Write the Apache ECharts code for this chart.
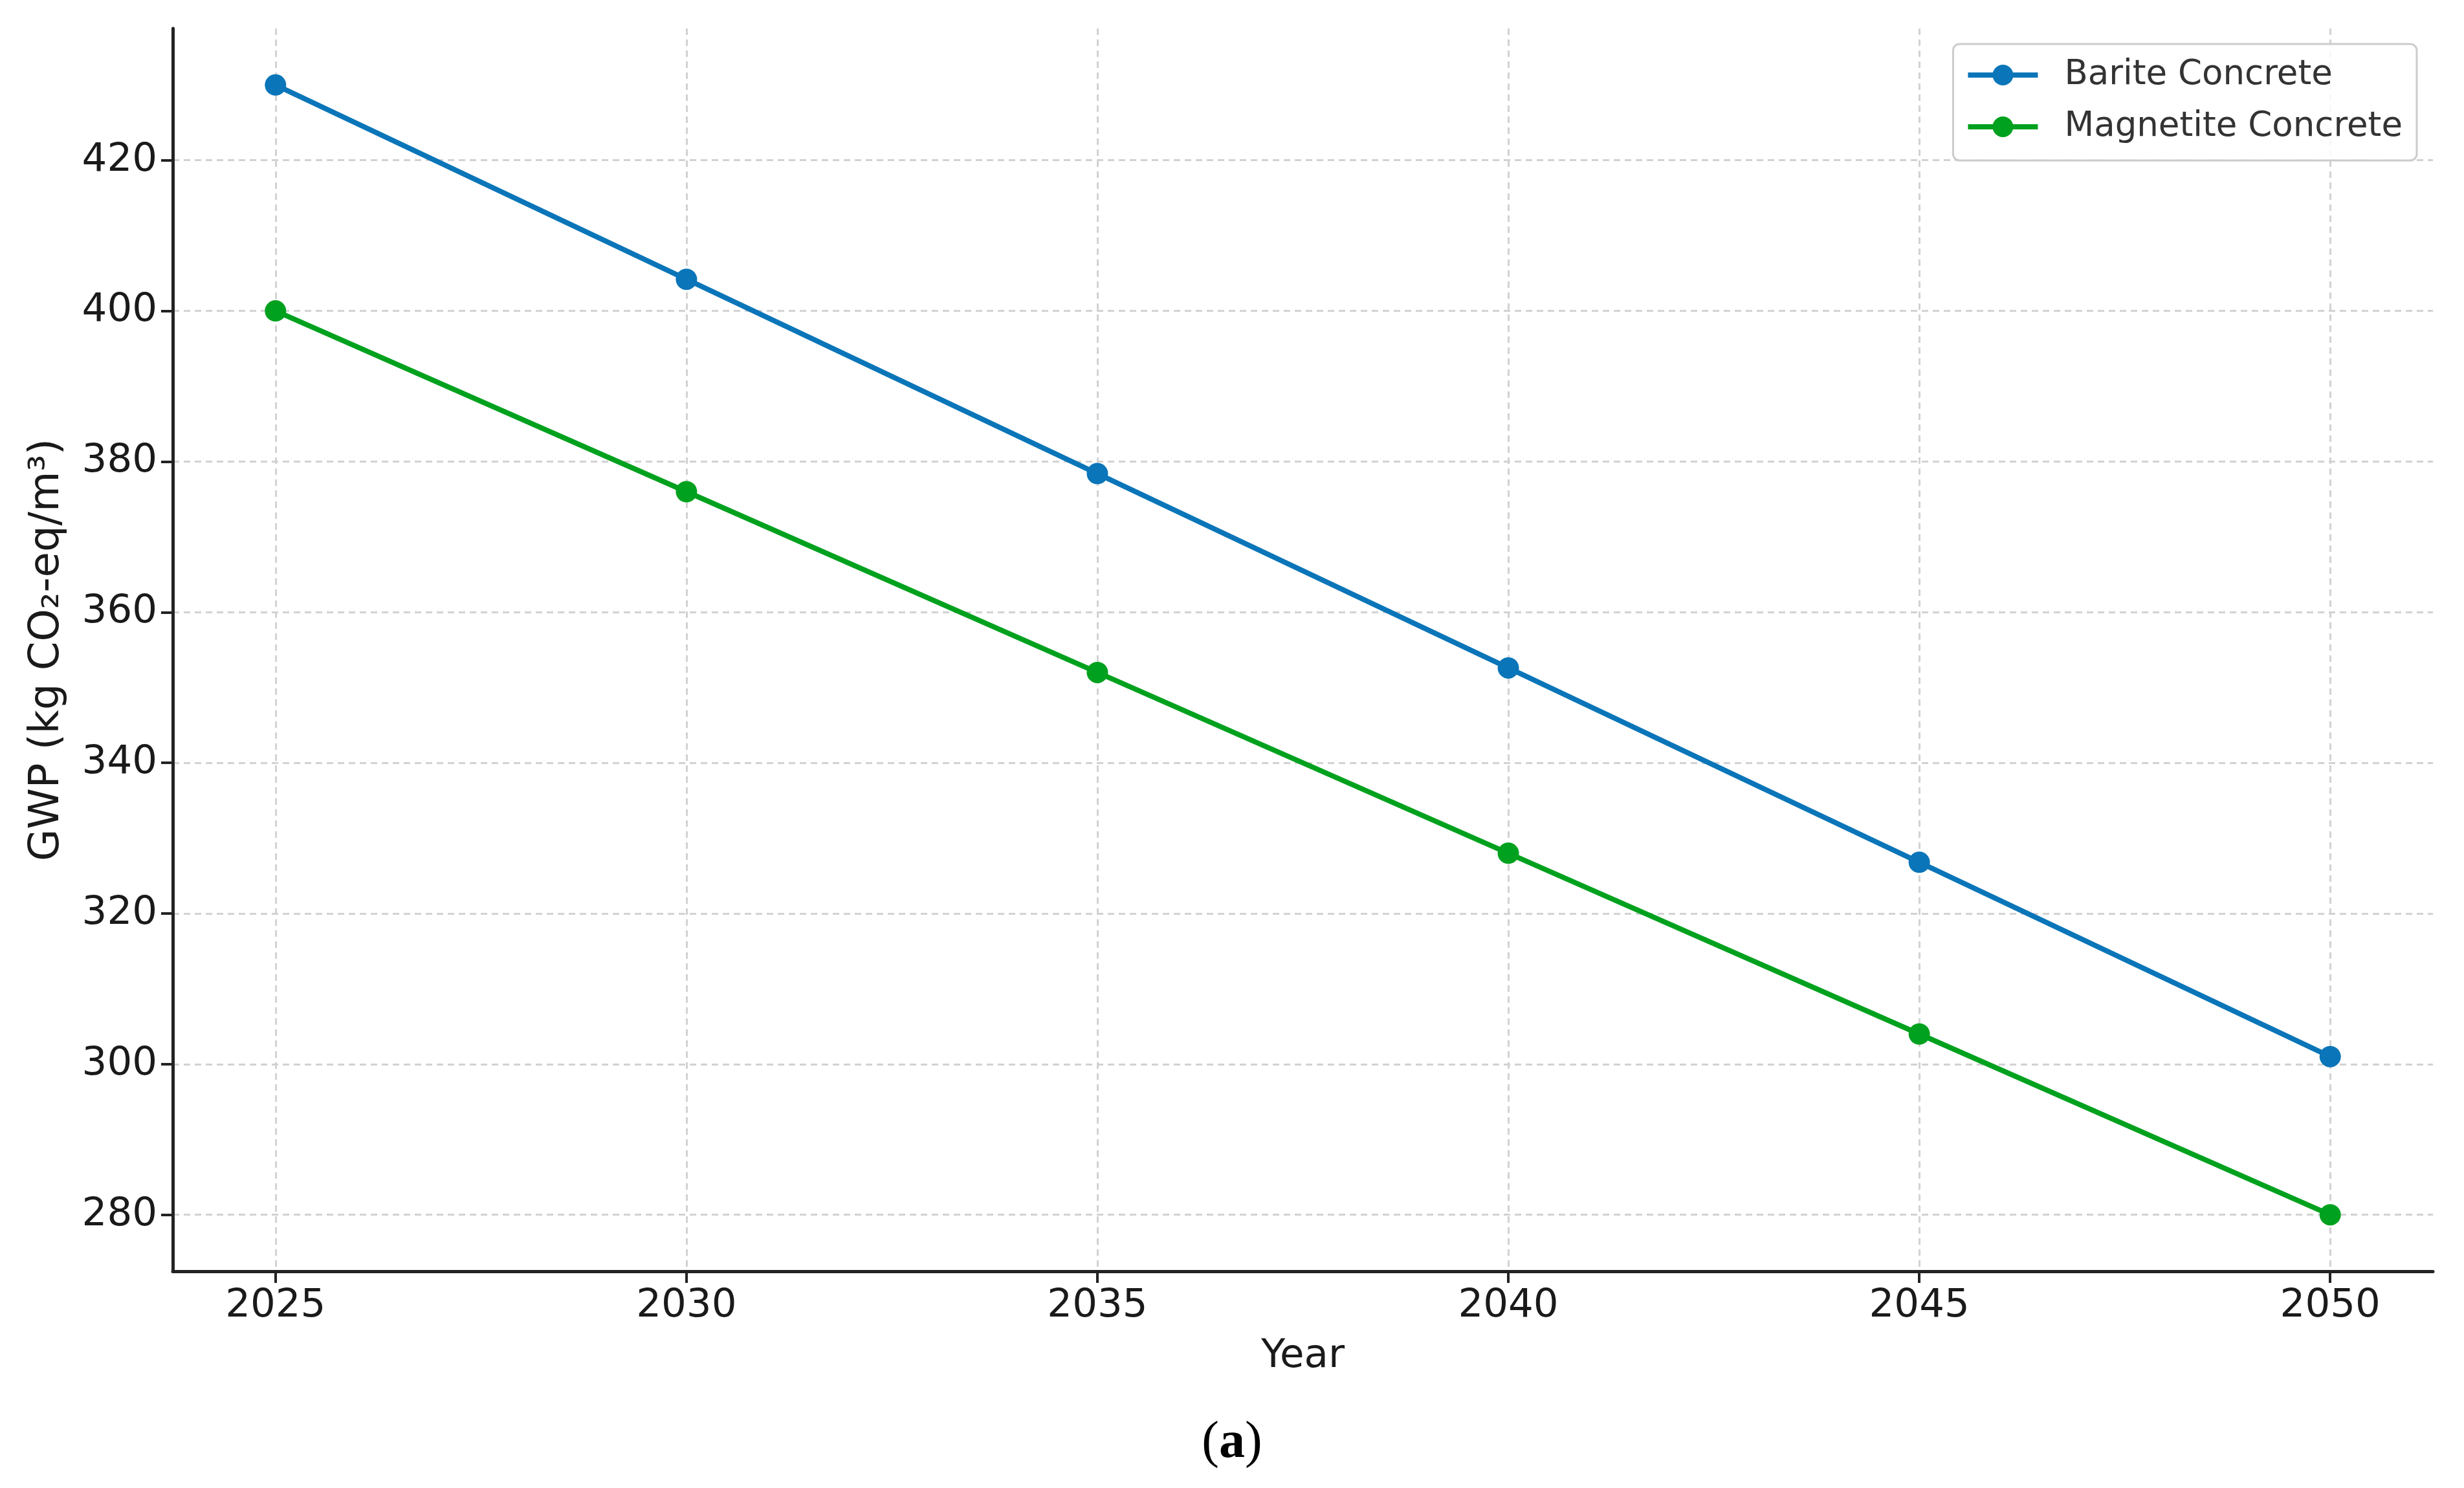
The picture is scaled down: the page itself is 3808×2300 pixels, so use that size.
<!DOCTYPE html>
<html>
<head>
<meta charset="utf-8">
<script src="https://cdn.jsdelivr.net/npm/echarts@6.0.0/dist/echarts.min.js"></script>
<style>
  html, body { margin: 0; padding: 0; background: #ffffff; }
  #chart { width: 3808px; height: 2300px; }
</style>
</head>
<body>
<div id="chart"></div>
<script>
// ---- data ----
const years = [2025, 2030, 2035, 2040, 2045, 2050];
const bariteValues = [430, 404.2, 378.4, 352.6, 326.8, 301];
const magnetiteValues = [400, 376, 352, 328, 304, 280];
const seriesNames = ['Barite Concrete', 'Magnetite Concrete'];
const xTicks = [2025, 2030, 2035, 2040, 2045, 2050];
const yTicks = [280, 300, 320, 340, 360, 380, 400, 420];
const xAxisTitle = 'Year';
const yAxisTitle = 'GWP (kg CO\u2082-eq/m\u00B3)';
const captionLabel = 'a';

const FONT = 'DejaVu Sans';
const AXIS_COLOR = '#222222';
const TEXT_COLOR = '#1a1a1a';
const GRID_COLOR = '#d2d2d2';

function pairs(xs, ys) { return xs.map((x, i) => [x, ys[i]]); }

const chart = echarts.init(document.getElementById('chart'), null, { renderer: 'canvas' });

const option = {
  backgroundColor: '#ffffff',
  animation: false,
  grid: { left: 267, right: 48, top: 44, bottom: 335, containLabel: false },
  title: {
    text: '{p|(}{b|' + captionLabel + '}{p|)}',
    left: 'center',
    top: 2186,
    textStyle: {
      fontWeight: 'normal',
      rich: {
        p: { fontFamily: 'Liberation Serif', fontSize: 80, fontWeight: 'normal', color: '#000' },
        b: { fontFamily: 'Liberation Serif', fontSize: 80, fontWeight: 'bold', color: '#000' }
      }
    }
  },
  legend: {
    data: seriesNames,
    orient: 'vertical',
    right: 73,
    top: 68,
    padding: [16, 22, 20, 19],
    itemWidth: 108,
    itemHeight: 40,
    itemGap: 16,
    backgroundColor: 'rgba(255,255,255,0.85)',
    borderColor: '#cccccc',
    borderWidth: 3,
    borderRadius: 10,
    lineStyle: { width: 8 },
    textStyle: {
      fontFamily: FONT,
      fontSize: 53,
      color: '#333333',
      lineHeight: 64,
      padding: [0, 0, 0, 36]
    }
  },
  xAxis: {
    type: 'value',
    min: 2023.75,
    max: 2051.25,
    name: xAxisTitle,
    nameLocation: 'middle',
    nameGap: 102,
    nameTextStyle: { fontFamily: FONT, fontSize: 61, color: TEXT_COLOR },
    axisLine: { show: true, onZero: false, lineStyle: { color: AXIS_COLOR, width: 5 } },
    axisTick: { show: true, length: 18, customValues: xTicks, lineStyle: { color: AXIS_COLOR, width: 4 } },
    axisLabel: {
      customValues: xTicks,
      margin: 24,
      fontFamily: FONT,
      fontSize: 61,
      color: TEXT_COLOR,
      formatter: v => String(v)
    },
    splitLine: { show: true, lineStyle: { color: GRID_COLOR, width: 3, type: [10, 7] } }
  },
  yAxis: {
    type: 'value',
    min: 272.5,
    max: 437.5,
    name: yAxisTitle,
    nameLocation: 'middle',
    nameGap: 162,
    nameRotate: 90,
    nameTextStyle: { fontFamily: FONT, fontSize: 64, color: TEXT_COLOR },
    axisLine: { show: true, onZero: false, lineStyle: { color: AXIS_COLOR, width: 5 } },
    axisTick: { show: true, length: 18, customValues: yTicks, lineStyle: { color: AXIS_COLOR, width: 4 } },
    axisLabel: {
      customValues: yTicks,
      margin: 24,
      fontFamily: FONT,
      fontSize: 61,
      color: TEXT_COLOR,
      formatter: v => String(v)
    },
    splitLine: { show: true, lineStyle: { color: GRID_COLOR, width: 3, type: [10, 7] } }
  },
  series: [
    {
      name: seriesNames[0],
      type: 'line',
      data: pairs(years, bariteValues),
      symbol: 'circle',
      symbolSize: 33,
      color: '#0a75b8',
      lineStyle: { width: 8, color: '#0a75b8' },
      itemStyle: { color: '#0a75b8' },
      z: 3
    },
    {
      name: seriesNames[1],
      type: 'line',
      data: pairs(years, magnetiteValues),
      symbol: 'circle',
      symbolSize: 33,
      color: '#00a11e',
      lineStyle: { width: 8, color: '#00a11e' },
      itemStyle: { color: '#00a11e' },
      z: 3
    }
  ]
};

chart.setOption(option);
</script>
</body>
</html>
